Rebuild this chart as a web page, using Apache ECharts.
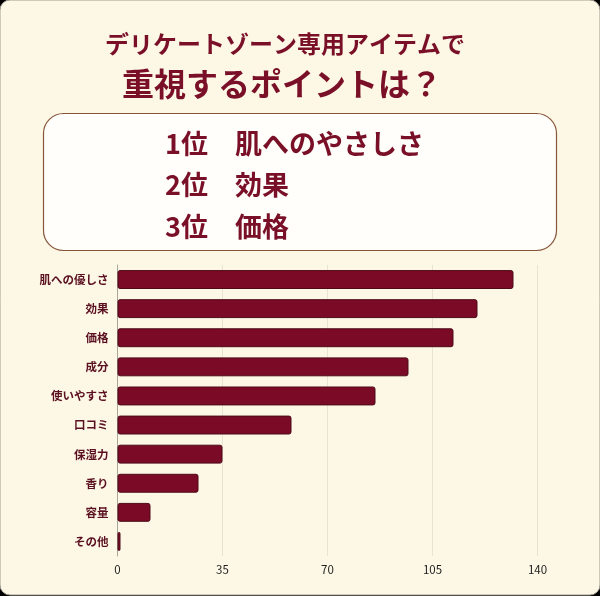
<!DOCTYPE html>
<html>
<head>
<meta charset="utf-8">
<script src="https://cdn.jsdelivr.net/npm/echarts@6/dist/echarts.min.js"></script>
<style>
html,body{margin:0;padding:0;background:#000;}
#chart{width:600px;height:596px;}
</style>
</head>
<body>
<div id="chart"></div>
<script>
const titleLine1 = 'デリケートゾーン専用アイテムで';
const titleLine2 = '重視するポイントは？';
const rankLabels = ['1位', '2位', '3位'];
const rankItems = ['肌へのやさしさ', '効果', '価格'];
const categories = ['肌への優しさ', '効果', '価格', '成分', '使いやすさ', '口コミ', '保湿力', '香り', '容量', 'その他'];
const values = [132, 120, 112, 97, 86, 58, 35, 27, 11, 1];
const xTicks = [0, 35, 70, 105, 140];

const FONT = '"Noto Sans CJK JP", "Noto Sans", sans-serif';
const MAROON = '#7a1028';

const chart = echarts.init(document.getElementById('chart'), null, {renderer: 'canvas'});

const rankTexts = rankLabels.map((r, i) => ({
  type: 'text',
  left: 165,
  top: 130 + i * 41.5,
  style: {
    text: r + '\u3000' + rankItems[i],
    font: 'bold 27px ' + FONT,
    fill: MAROON
  }
}));

chart.setOption({
  backgroundColor: '#000',
  animation: false,
  graphic: [
    {type: 'rect', z: -10, shape: {x: 0, y: 0, width: 600, height: 595, r: 10}, style: {fill: '#fdf8e6', stroke: '#a09d90', lineWidth: 1}},
    {type: 'text', x: 285, y: 44, style: {text: titleLine1, font: 'bold 24px ' + FONT, fill: MAROON, align: 'center', verticalAlign: 'middle'}},
    {type: 'text', x: 282, y: 84, style: {text: titleLine2, font: 'bold 32px ' + FONT, fill: MAROON, align: 'center', verticalAlign: 'middle'}},
    {type: 'rect', shape: {x: 43.5, y: 113.5, width: 513, height: 137, r: 20}, style: {fill: '#fffefb', stroke: '#86553a', lineWidth: 1.2}},
    ...rankTexts
  ],
  grid: {left: 117.5, right: 62.5, top: 265, bottom: 40, containLabel: false},
  xAxis: {
    type: 'value', min: 0, max: 140, interval: 35,
    axisLine: {show: false}, axisTick: {show: false},
    splitLine: {show: true, lineStyle: {color: '#e9e4d2', width: 1}},
    axisLabel: {color: '#222', fontSize: 11.5, fontFamily: FONT, margin: 8,
      formatter: v => xTicks.includes(v) ? String(v) : ''}
  },
  yAxis: {
    type: 'category', data: categories, inverse: true,
    axisLine: {show: true, lineStyle: {color: '#a8a59a', width: 1}},
    axisTick: {show: false},
    axisLabel: {color: '#5a1020', fontSize: 11.5, fontWeight: 'bold', fontFamily: FONT, margin: 9}
  },
  series: [{
    type: 'bar', data: values, barWidth: '65%',
    itemStyle: {color: '#7a0a25', borderColor: '#4e0a18', borderWidth: 1, borderRadius: 2}
  }]
});
</script>
</body>
</html>
